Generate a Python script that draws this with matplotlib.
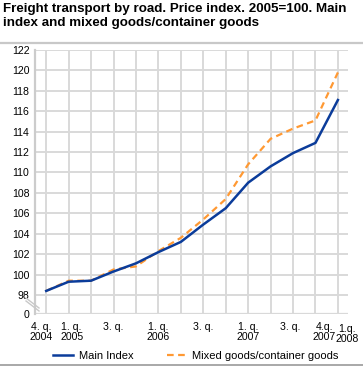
import matplotlib
matplotlib.use("Agg")
import matplotlib.pyplot as plt
import matplotlib.transforms as mtransforms
from matplotlib.lines import Line2D

plt.rcParams['font.family'] = ['Liberation Sans', 'DejaVu Sans']

quarters = ["4q2004", "1q2005", "2q2005", "3q2005", "4q2005", "1q2006", "2q2006",
            "3q2006", "4q2006", "1q2007", "2q2007", "3q2007", "4q2007", "1q2008"]
main_index = [98.4, 99.3, 99.4, 100.3, 101.1, 102.2, 103.2, 104.9, 106.5, 109.0,
              110.6, 111.9, 112.9, 117.1]
mixed_goods = [98.4, 99.4, 99.4, 100.5, 100.8, 102.3, 103.6, 105.4, 107.4, 110.8,
               113.3, 114.3, 115.1, 119.8]
xtick_pos = [0, 1, 3, 5, 7, 9, 11, 12, 13]
xtick_labels = ["4. q.\n2004", "1. q.\n2005", "3. q.", "1. q.\n2006", "3. q.",
                "1. q.\n2007", "3. q.", "4.q.\n2007", "1.q.\n2008"]
ytick_vals = list(range(98, 123, 2))

W, H = 363, 368
fig = plt.figure(figsize=(W / 100, H / 100), dpi=100)

def fx(px):
    return px / W

def fy(py):
    return 1 - py / H

ax_l, ax_r, ax_t, ax_b = 35, 348, 50, 314
ax = fig.add_axes([fx(ax_l), fy(ax_b), fx(ax_r) - fx(ax_l), fy(ax_t) - fy(ax_b)])
ymin = 98 - (ax_b - 295) / 10.2
ax.set_ylim(ymin, 122)
ax.set_xlim(-0.5, 13.45)

grid_c = '#d9d9d9'
for v in ytick_vals:
    ax.axhline(v, color=grid_c, lw=1.4, zorder=1)
for i in range(len(quarters)):
    ax.axvline(i, color=grid_c, lw=1.4, zorder=1)
ax.axhline(ymin, color=grid_c, lw=1.6, zorder=1)

for s in ax.spines.values():
    s.set_visible(False)
ax.spines['left'].set_visible(True)
ax.spines['left'].set_color('#cccccc')
ax.spines['left'].set_linewidth(1.6)

x = list(range(len(quarters)))
blue = '#0b3c9a'
orange = '#ff9933'
ax.plot(x, mixed_goods, color=orange, lw=1.6, dashes=(3, 2), zorder=3)
ax.plot(x, main_index, color=blue, lw=1.8, zorder=4)

ax.set_yticks(ytick_vals + [ymin])
ax.set_yticklabels([str(v) for v in ytick_vals] + ["0"])
ax.set_xticks(xtick_pos)
ax.set_xticklabels(xtick_labels, linespacing=1.0)
ax.tick_params(axis='both', length=0, labelsize=7.6, colors='#000000')
ax.tick_params(axis='y', pad=4)
ax.tick_params(axis='x', pad=6)

# small label shifts (pixels) as in the original
shifts = {0: (-5, 0), 1: (3, 0), 11: (-3, 0), 12: (9, 0), 13: (9, -1.5)}
for pos, lbl in zip(xtick_pos, ax.get_xticklabels()):
    if pos in shifts:
        dx, dy = shifts[pos]
        lbl.set_transform(lbl.get_transform() +
                          mtransforms.ScaledTranslation(dx / 100, dy / 100, fig.dpi_scale_trans))

# axis break marks
for off in (0, 3):
    fig.add_artist(Line2D([fx(26), fx(39)], [fy(298 + off), fy(308 + off)],
                          color='#c8c8c8', lw=1.0, transform=fig.transFigure))

# title
fig.text(fx(3), fy(3), "Freight transport by road. Price index. 2005=100. Main\nindex and mixed goods/container goods",
         ha='left', va='top', fontsize=9.6, fontweight='bold', linespacing=1.25)
fig.add_artist(Line2D([0, 1], [fy(43), fy(43)], color='#c8c8c8', lw=1.6,
                      transform=fig.transFigure))
fig.add_artist(Line2D([0, 1], [fy(365), fy(365)], color='#999999', lw=1.2,
                      transform=fig.transFigure))

# legend
h1 = Line2D([], [], color=blue, lw=1.8)
h2 = Line2D([], [], color=orange, lw=1.6, dashes=(3, 2))
fig.legend([h1, h2], ["Main Index", "Mixed goods/container goods"], loc='center',
           bbox_to_anchor=(fx(196), fy(356)), ncol=2, frameon=False, fontsize=8,
           handlelength=1.8, handletextpad=0.5, columnspacing=3.0,
           borderpad=0, borderaxespad=0)

fig.savefig("out.png", dpi=100)
